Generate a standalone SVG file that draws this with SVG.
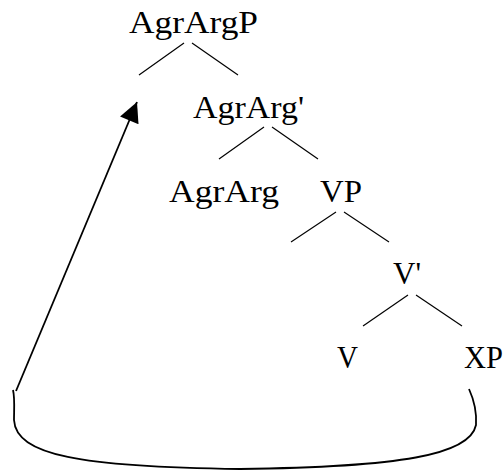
<svg xmlns="http://www.w3.org/2000/svg" width="504" height="470" viewBox="0 0 504 470">
<style>
.lbl{font-family:"Liberation Serif","Times New Roman",serif;font-size:31px;fill:#000}
.br{stroke:#000;stroke-width:1.2;fill:none}
.mv{stroke:#000;stroke-width:1.8;fill:none}
</style>
<defs>
<marker id="ah" viewBox="0 0 10 10" refX="10" refY="5" markerWidth="26" markerHeight="20" markerUnits="userSpaceOnUse" orient="auto">
<path d="M0,0 L10,5 L0,10 Z" fill="#000"/>
</marker>
</defs>
<rect width="504" height="470" fill="#fff"/>
<g id="n-AgrArgP"><text class="lbl" x="129" y="33" textLength="129" lengthAdjust="spacingAndGlyphs">AgrArgP</text></g>
<g id="n-AgrArgBar"><text class="lbl" x="193" y="118" textLength="111" lengthAdjust="spacingAndGlyphs">AgrArg'</text></g>
<g id="n-AgrArg"><text class="lbl" x="169" y="202" textLength="110" lengthAdjust="spacingAndGlyphs">AgrArg</text></g>
<g id="n-VP"><text class="lbl" x="320" y="202" textLength="42" lengthAdjust="spacingAndGlyphs">VP</text></g>
<g id="n-VBar"><text class="lbl" x="393" y="284" textLength="28" lengthAdjust="spacingAndGlyphs">V'</text></g>
<g id="n-V"><text class="lbl" x="337" y="368" textLength="21" lengthAdjust="spacingAndGlyphs">V</text></g>
<g id="n-XP"><text class="lbl" x="464" y="368" textLength="39" lengthAdjust="spacingAndGlyphs">XP</text></g>
<g id="connectors">
<line class="br" x1="184" y1="43" x2="139" y2="75"/>
<line class="br" x1="192" y1="43" x2="238" y2="75"/>
<line class="br" x1="264" y1="127" x2="219" y2="159"/>
<line class="br" x1="272" y1="127" x2="318" y2="159"/>
<line class="br" x1="336" y1="212" x2="291" y2="242"/>
<line class="br" x1="344" y1="212" x2="389" y2="242"/>
<line class="br" x1="408" y1="295" x2="363" y2="326"/>
<line class="br" x1="416" y1="295" x2="462" y2="326"/>
<path class="mv" d="M469,389 C474,400 477,410 476,425 C470,455 400,467 240,469 C80,467 16,455 14,420 C14,410 15,398 13,390"/>
<line class="mv" x1="16" y1="391" x2="137" y2="102" marker-end="url(#ah)"/>
</g>
</svg>
